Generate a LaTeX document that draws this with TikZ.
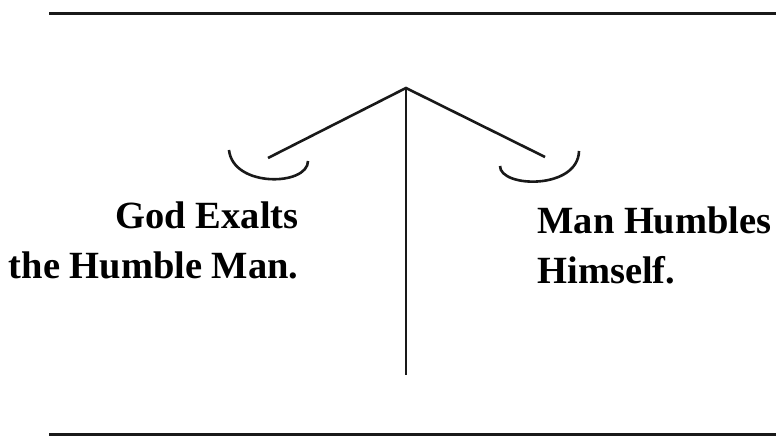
\documentclass[tikz,border=0pt]{standalone}
\usepackage{fontspec}
\setmainfont{Liberation Serif}
\usepackage{tikz}
\usetikzlibrary{positioning}

\begin{document}
\begin{tikzpicture}[
  x=0.5pt, y=-0.5pt,
  % --- styles ---
  rule/.style={line width=1.5pt, black!90},
  beam/.style={line width=1.3pt, black!90},
  pan/.style={line width=1.3pt, black!90},
  caption/.style={font=\fontsize{19.25}{25}\selectfont\bfseries,
    inner sep=0pt, text=black},
]
\useasboundingbox (0,0) rectangle (776,438);

% Frame rules
\coordinate (topL) at (49,13.5);
\coordinate (topR) at (776,13.5);
\coordinate (botL) at (49,434);
\coordinate (botR) at (776,434);
\draw[rule] (topL) -- (topR);
\draw[rule] (botL) -- (botR);

% Balance
\coordinate (apex) at (406,88);
\coordinate (foot) at (406,375);
\coordinate (armL) at (268,158);
\coordinate (armR) at (545,157);
\draw[beam] (apex) -- (foot);
\draw[beam] (armL) -- (apex) -- (armR);

% Pans
\coordinate (panLa) at (229,150);
\coordinate (panLb) at (308,161);
\coordinate (panRa) at (500,166);
\coordinate (panRb) at (579,151);
\draw[pan] (panLa) .. controls (233,188) and (308,186) .. (panLb);
\draw[pan] (panRa) .. controls (500,188) and (578,190) .. (panRb);

% Captions
\node[caption, align=right, anchor=north east] (exalts) at (299,201)
  {God Exalts\\the Humble Man.};
\node[caption, align=left, anchor=north west] (humbles) at (537,206)
  {Man Humbles\\Himself.};

\end{tikzpicture}
\end{document}
